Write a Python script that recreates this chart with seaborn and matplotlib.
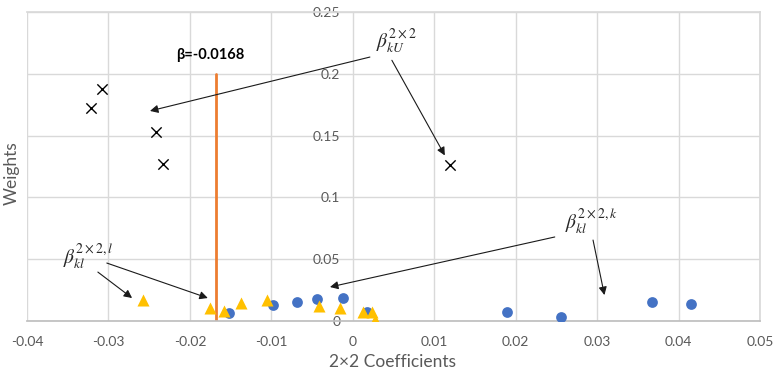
import pandas as pd
import matplotlib
matplotlib.use("Agg")
import matplotlib.pyplot as plt
import seaborn as sns

sns.set_theme(style="white")
plt.rcParams['font.family'] = ['Lato', 'DejaVu Sans']
plt.rcParams['mathtext.fontset'] = 'stix'

# Data
u_x = [-0.0308, -0.0322, -0.0242, -0.0233, 0.0119]
u_y = [0.188, 0.1726, 0.153, 0.1268, 0.126]

k_x = [-0.0152, -0.0098, -0.0069, -0.0044, -0.0012, 0.0017, 0.0189, 0.0256, 0.0367, 0.0415]
k_y = [0.0062, 0.013, 0.0156, 0.0178, 0.0189, 0.007, 0.0075, 0.0035, 0.0151, 0.0135]

l_x = [-0.0258, -0.0175, -0.0158, -0.0137, -0.0105, -0.0042, -0.0016, 0.0012, 0.0024, 0.0027]
l_y = [0.017, 0.0108, 0.0081, 0.0143, 0.017, 0.0124, 0.0108, 0.007, 0.0075, 0.001]

beta = -0.0168
x_ticks = [-0.04, -0.03, -0.02, -0.01, 0, 0.01, 0.02, 0.03, 0.04, 0.05]
x_tick_labels = ['-0.04', '-0.03', '-0.02', '-0.01', '0', '0.01', '0.02', '0.03', '0.04', '0.05']
y_ticks = [0, 0.05, 0.1, 0.15, 0.2, 0.25]
y_tick_labels = ['0', '0.05', '0.1', '0.15', '0.2', '0.25']

df_u = pd.DataFrame({'x': u_x, 'y': u_y})
df_k = pd.DataFrame({'x': k_x, 'y': k_y})
df_l = pd.DataFrame({'x': l_x, 'y': l_y})

fig = plt.figure(figsize=(7.74, 3.74), dpi=100)
ax = fig.add_axes([0.0349, 0.1417, 0.947, 0.826])

grid_c = '#D9D9D9'
txt_c = '#595959'

ax.set_xlim(-0.04, 0.05)
ax.set_ylim(0, 0.25)
ax.set_xticks(x_ticks)
ax.set_xticklabels(x_tick_labels)
ax.set_yticks(y_ticks)
ax.set_yticklabels(y_tick_labels)
ax.grid(True, color=grid_c, lw=1)
ax.set_axisbelow(True)

for side in ['top', 'right']:
    ax.spines[side].set_color(grid_c)
ax.spines['bottom'].set_color('#BFBFBF')
ax.spines['left'].set_position(('data', 0))
ax.spines['left'].set_visible(False)
ax.tick_params(axis='both', length=0, labelsize=10, labelcolor=txt_c)
ax.tick_params(axis='x', pad=11)
ax.tick_params(axis='y', pad=9)

# vertical reference line
ax.plot([beta, beta], [0, 0.2], color='#ED7D31', lw=2, zorder=2)

sns.scatterplot(data=df_k, x='x', y='y', ax=ax, color='#4472C4', marker='o',
                s=60, edgecolor='#4472C4', linewidth=0, zorder=3)
sns.scatterplot(data=df_l, x='x', y='y', ax=ax, color='#FFC000', marker='^',
                s=75, edgecolor='#FFC000', linewidth=0, zorder=4)
sns.scatterplot(data=df_u, x='x', y='y', ax=ax, color='black', marker='x',
                s=55, linewidth=1, zorder=5)

ax.set_xlabel('2×2 Coefficients', fontsize=12.5, color=txt_c)
ax.set_ylabel('Weights', fontsize=12.5, color=txt_c)
ax.xaxis.set_label_coords(0.498, -0.108)
ax.yaxis.set_label_coords(-0.01, 0.48)

ax.text(-0.0175, 0.215, 'β=-0.0168', ha='center', va='center', fontsize=10.5,
        fontweight='bold', color='black')

# labels and arrows
ax.text(0.0054, 0.226, r'$\beta_{kU}^{2\times2}$', ha='center', va='center', fontsize=14)
ax.text(-0.0325, 0.0526, r'$\beta_{kl}^{2\times2,l}$', ha='center', va='center', fontsize=14)
ax.text(0.0293, 0.081, r'$\beta_{kl}^{2\times2,k}$', ha='center', va='center', fontsize=14)

arrows = [
    ((0.0021, 0.2136), (-0.0249, 0.170)),
    ((0.0048, 0.211), (0.0113, 0.134)),
    ((-0.0313, 0.0396), (-0.0271, 0.0186)),
    ((-0.0302, 0.0469), (-0.0178, 0.0186)),
    ((0.0248, 0.068), (-0.0028, 0.0275)),
    ((0.0295, 0.0655), (0.0309, 0.021)),
]
for start, end in arrows:
    ax.annotate('', xy=end, xytext=start,
                arrowprops=dict(arrowstyle='-|>', color='#1a1a1a', lw=0.8,
                                mutation_scale=12, shrinkA=0, shrinkB=0),
                zorder=6)

fig.savefig('out.png', dpi=100)
plt.close(fig)
